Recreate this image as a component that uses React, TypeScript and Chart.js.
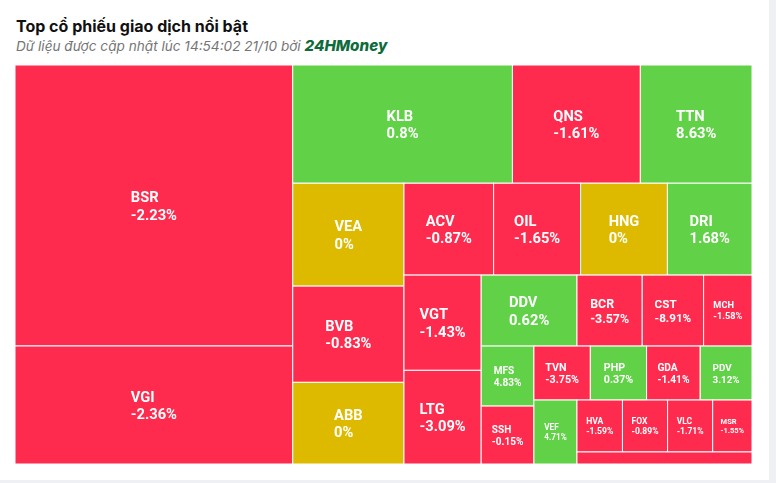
import React, { useEffect, useRef } from 'react';
import Chart from 'chart.js/auto';

// ---- data ----
const tickers = ['BSR', 'VGI', 'KLB', 'QNS', 'TTN', 'VEA', 'BVB', 'ABB', 'ACV', 'OIL', 'HNG', 'DRI', 'VGT', 'LTG', 'DDV', 'BCR', 'CST', 'MCH', 'MFS', 'SSH', 'TVN', 'PHP', 'GDA', 'PDV', 'VEF', 'HVA', 'FOX', 'VLC', 'MSR', 'Khác'];
// trading value (relative size of each cell)
const tradeValues = [779.2, 327.2, 259.3, 151.0, 131.8, 114.3, 106.9, 90.7, 82.2, 79.8, 79.6, 77.6, 73.4, 72.2, 67.9, 46.2, 43.5, 34.3, 31.6, 30.5, 30.4, 30.3, 28.9, 27.9, 27.5, 23.6, 23.4, 23.4, 20.4, 21.0];
// % price change
const changes = [-2.23, -2.36, 0.8, -1.61, 8.63, 0, -0.83, 0, -0.87, -1.65, 0, 1.68, -1.43, -3.09, 0.62, -3.57, -8.91, -1.58, 4.83, -0.15, -3.75, 0.37, -1.41, 3.12, 4.71, -1.59, -0.89, -1.71, -1.55, -1.2];

const TITLE = 'Top cổ phiếu giao dịch nổi bật';
const SUBTITLE = 'Dữ liệu được cập nhật lúc 14:54:02 21/10 bởi ';
const BRAND = '24HMoney';

// ---- style ----
const PLOT_W = 737;
const PLOT_H = 399;
const RED = '#ff2b4f';
const GREEN = '#61d147';
const YELLOW = '#ddba00';

type Rect = { x: number; y: number; w: number; h: number };

// squarified layout with alternating direction (low aspect ratio algorithm)
function layoutTreemap(values: number[], W: number, H: number): Rect[] {
  const total = values.reduce((a, b) => a + b, 0);
  const areas = values.map((v) => (v / total) * W * H);
  const out: Rect[] = [];
  const plot = { x: 0, y: 0 };
  const ar = (a: number, b: number) => Math.max(a / b, b / a);
  const g = {
    width: W, height: H, direction: 0, total: 0,
    nW: 0, lW: 0, nH: 0, lH: 0, el: [] as number[],
    lp: { total: NaN, lH: 0, nH: 0, lW: 0, nW: 0, nR: NaN, lR: NaN },
  };
  const add = (el: number) => {
    g.lp.total = g.el.length ? g.el[g.el.length - 1] : NaN;
    g.total += el;
    if (g.direction === 0) {
      g.lW = g.nW;
      g.lp.lH = g.lp.total / g.lW;
      g.lp.lR = ar(g.lW, g.lp.lH);
      g.nW = g.total / g.height;
      g.lp.nH = g.lp.total / g.nW;
      g.lp.nR = ar(g.nW, g.lp.nH);
    } else {
      g.lH = g.nH;
      g.lp.lW = g.lp.total / g.lH;
      g.lp.lR = ar(g.lp.lW, g.lH);
      g.nH = g.total / g.width;
      g.lp.nW = g.lp.total / g.nH;
      g.lp.nR = ar(g.lp.nW, g.nH);
    }
    g.el.push(el);
  };
  const calc = (last: boolean) => {
    let gW = g.lW;
    let gH = g.lH;
    let keep = NaN;
    if (last) {
      gW = g.nW;
      gH = g.nH;
    } else {
      keep = g.el[g.el.length - 1];
    }
    const end = g.el.length - 1;
    g.el.forEach((p, i) => {
      if (last || i < end) {
        let w: number, h: number;
        if (g.direction === 0) { w = gW; h = p / w; } else { h = gH; w = p / h; }
        out.push({ x: plot.x, y: plot.y, w, h });
        if (g.direction === 0) plot.y += h; else plot.x += w;
      }
    });
    g.nW = 0; g.lW = 0; g.el = []; g.total = 0;
    if (g.direction === 0) g.width -= gW; else g.height -= gH;
    plot.y = H - g.height;
    plot.x = W - g.width;
    g.direction = 1 - g.direction;
    if (!last) add(keep);
  };
  areas.forEach((a, i) => {
    add(a);
    if (g.lp.nR > g.lp.lR) calc(false);
    if (i === areas.length - 1) calc(true);
  });
  return out;
}

function colorFor(v: number) {
  if (v > 0) return GREEN;
  if (v < 0) return RED;
  return YELLOW;
}

export default function App() {
  const ref = useRef<HTMLCanvasElement | null>(null);
  useEffect(() => {
    if (!ref.current) return;
    const cells = layoutTreemap(tradeValues, PLOT_W, PLOT_H);
    const treemapPlugin = {
      id: 'treemapCells',
      afterDatasetsDraw(chart: any) {
        const ctx = chart.ctx as CanvasRenderingContext2D;
        const xs = chart.scales.x;
        const ys = chart.scales.y;
        ctx.save();
        cells.forEach((r, i) => {
          const x0 = xs.getPixelForValue(r.x);
          const x1 = xs.getPixelForValue(r.x + r.w);
          const y0 = ys.getPixelForValue(r.y);
          const y1 = ys.getPixelForValue(r.y + r.h);
          ctx.fillStyle = colorFor(changes[i]);
          ctx.fillRect(x0, y0, x1 - x0, y1 - y0);
          ctx.strokeStyle = '#ffffff';
          ctx.lineWidth = 1;
          ctx.strokeRect(x0, y0, x1 - x0, y1 - y0);
        });
        cells.forEach((r, i) => {
          const x0 = xs.getPixelForValue(r.x);
          const x1 = xs.getPixelForValue(r.x + r.w);
          const y0 = ys.getPixelForValue(r.y);
          const y1 = ys.getPixelForValue(r.y + r.h);
          const w = x1 - x0;
          const h = y1 - y0;
          const f = Math.min(14.7, 0.19 * Math.min(w, h * 1.1));
          const lh = f * 1.2;
          if (h < 2 * lh + 4 || f < 6) return;
          const lines = [tickers[i], `${changes[i]}%`];
          ctx.font = `bold ${f}px Roboto`;
          const bw = Math.max(...lines.map((s) => ctx.measureText(s).width));
          const cx = (x0 + x1) / 2;
          const cy = (y0 + y1) / 2 + f * 0.12;
          ctx.fillStyle = '#ffffff';
          ctx.textAlign = 'left';
          ctx.textBaseline = 'middle';
          ctx.fillText(lines[0], cx - bw / 2, cy - lh / 2);
          ctx.fillText(lines[1], cx - bw / 2, cy + lh / 2);
        });
        ctx.restore();
      },
    };
    const chart = new Chart(ref.current, {
      type: 'scatter',
      data: {
        datasets: [
          {
            data: cells.map((r) => ({ x: r.x + r.w / 2, y: r.y + r.h / 2 })),
            pointRadius: 0,
          },
        ],
      },
      options: {
        responsive: false,
        animation: false,
        layout: { padding: 0 },
        events: [],
        scales: {
          x: { type: 'linear', min: 0, max: PLOT_W, display: false },
          y: { type: 'linear', min: 0, max: PLOT_H, reverse: true, display: false },
        },
        plugins: { legend: { display: false }, tooltip: { enabled: false } },
      },
      plugins: [treemapPlugin],
    } as any);
    return () => chart.destroy();
  }, []);

  return (
    <div style={{ position: 'fixed', left: 0, top: 0, width: 776, height: 483, background: '#eef0f3' }}>
      <div style={{ position: 'absolute', left: 0, top: 0, width: 769, height: 480, background: '#ffffff' }}>
        <div
          style={{
            position: 'absolute', left: 16, top: 16, fontFamily: 'Inter, Roboto, sans-serif',
            fontWeight: 700, fontSize: 16, lineHeight: '20px', color: '#111', whiteSpace: 'nowrap',
          }}
        >
          {TITLE}
        </div>
        <div
          style={{
            position: 'absolute', left: 16, top: 37, fontFamily: 'Inter, Roboto, sans-serif',
            fontStyle: 'italic', fontSize: 13.6, lineHeight: '18px', color: '#757575', whiteSpace: 'nowrap',
          }}
        >
          {SUBTITLE}
          <span style={{ color: '#0e6b3b', fontWeight: 800, fontSize: 15.2 }}>{BRAND}</span>
        </div>
        <canvas
          ref={ref}
          width={PLOT_W}
          height={PLOT_H}
          style={{ position: 'absolute', left: 15, top: 65, width: PLOT_W, height: PLOT_H }}
        />
      </div>
    </div>
  );
}
